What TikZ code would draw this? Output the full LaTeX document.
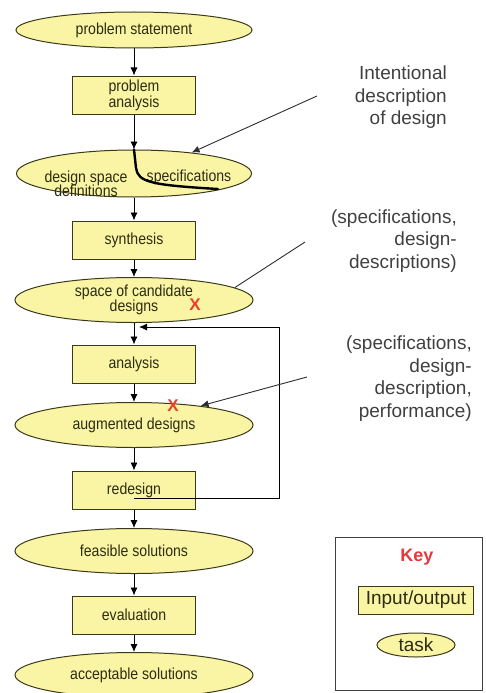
\documentclass[tikz,border=0pt]{standalone}
\usepackage{fontspec}
\setmainfont{Liberation Sans}
\newfontfamily\boxfont[FakeStretch=0.88]{Liberation Sans}
\usetikzlibrary{shapes.geometric,arrows.meta}
\definecolor{pale}{HTML}{FAF5A5}
\definecolor{edge}{HTML}{3A3A1A}
\definecolor{ink}{HTML}{2C2C10}
\definecolor{notegray}{HTML}{404040}
\definecolor{mark}{HTML}{E8402A}
\definecolor{keyred}{HTML}{E8383D}
\begin{document}
\begin{tikzpicture}[x=1pt,y=-1pt,
  boxtext/.style={font=\boxfont\fontsize{16}{12}\selectfont, text=ink, align=center, inner sep=0pt},
  io/.style={boxtext, draw=edge, fill=pale, line width=1pt, minimum width=123pt, minimum height=38pt},
  task/.style={boxtext, ellipse, draw=edge, fill=pale, line width=1pt, minimum width=238pt, minimum height=45pt},
  flow/.style={-{Latex[length=8pt,width=7pt]}, line width=0.9pt, black},
  pointer/.style={-{Latex[length=8pt,width=7pt]}, line width=0.9pt, notegray!70!black},
  plainline/.style={line width=0.9pt, notegray!70!black},
  note/.style={font=\fontsize{19}{22.5}\selectfont, text=notegray, align=right, anchor=east, inner sep=0pt},
  cross/.style={font=\bfseries\fontsize{17}{17}\selectfont, text=mark, inner sep=0pt}
]
\useasboundingbox (0,0) rectangle (486,693);

% main flow
\node[task, minimum width=236pt, minimum height=36pt] (ps) at (134,30) {problem statement};
\node[io] (pa) at (134,95) {problem\\analysis};
\node[task, minimum width=235pt, minimum height=47pt] (ds) at (134,173.5) {};
\node[boxtext] (dsd) at (86,184) {design space\\[-2pt]definitions};
\node[boxtext] (spec) at (189,177) {specifications};
\node[io] (syn) at (134,240) {synthesis};
\node[task] (cand) at (134,300) {space of candidate\\[-1pt]designs};
\node[io] (ana) at (134,364) {analysis};
\node[task] (aug) at (134,425) {augmented designs};
\node[io] (red) at (134,490) {redesign};
\node[task] (feas) at (134,551) {feasible solutions};
\node[io] (eval) at (134,615) {evaluation};
\node[task] (acc) at (134,675) {acceptable solutions};

\draw[flow] (ps) -- (pa);
\draw[flow] (pa) -- (ds);
\draw[flow] (ds) -- (syn);
\draw[flow] (syn) -- (cand);
\draw[flow] (cand) -- (ana);
\draw[flow] (ana) -- (aug);
\draw[flow] (aug) -- (red);
\draw[flow] (red) -- (feas);
\draw[flow] (feas) -- (eval);
\draw[flow] (eval) -- (acc);

% split between the two halves of the design space node
\draw[line width=2.4pt, line cap=round] (ds.north) -- (136,168) .. controls (138,182) and (150,185) .. (218,189);

% feedback from redesign back to the candidate designs
\coordinate (loopStart) at (134,498);
\coordinate (loopEnd) at (139,327);
\draw[flow] (loopStart) -| (279,327) -- (loopEnd);

% red marks
\node[cross] (x1) at (195,305) {X};
\node[cross] (x2) at (173,406) {X};

% annotations
\node[note] (n1) at (447,97.5) {Intentional\\description\\of design};
\node[note] (n2) at (457,241) {(specifications,\\design-\\descriptions)};
\node[note] (n3) at (472,378.5) {(specifications,\\design-\\description,\\performance)};

\coordinate (t1) at (317,96);
\coordinate (t2) at (305,242);
\coordinate (t3) at (307,377);
\draw[pointer] (t1) -- (ds.20);
\draw[plainline] (t2) -- (cand.7);
\draw[pointer] (t3) -- (aug.16);

% key
\node[draw=black!75, line width=1pt, fill=white, minimum width=147pt, minimum height=153pt, inner sep=0pt, anchor=north west] (key) at (335,537) {};
\node[font=\bfseries\fontsize{18}{18}\selectfont, text=keyred, inner sep=0pt] (keytitle) at (417,557) {Key};
\node[draw=edge, fill=pale, line width=1pt, minimum width=115pt, minimum height=28pt, inner sep=0pt, font=\fontsize{19}{19}\selectfont, text=ink] (keyio) at (416,600) {Input/output};
\node[ellipse, draw=edge, fill=pale, line width=1pt, minimum width=78pt, minimum height=24pt, inner sep=0pt, font=\fontsize{19}{19}\selectfont, text=ink] (keytask) at (416,645) {task};
\end{tikzpicture}
\end{document}
